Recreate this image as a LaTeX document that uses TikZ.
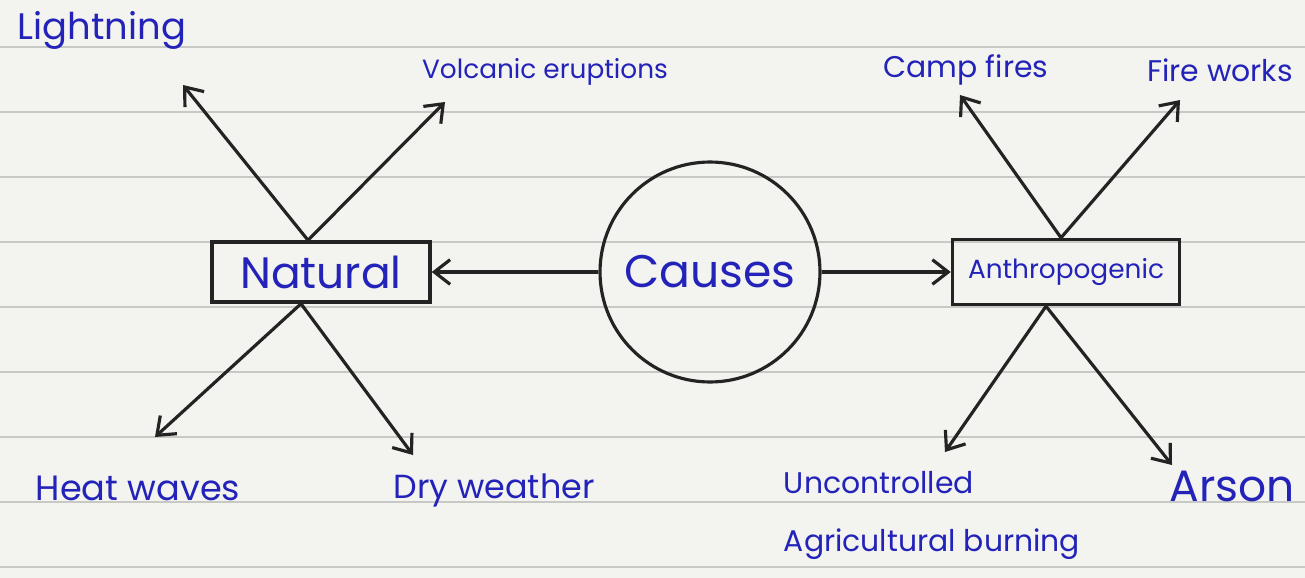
\documentclass[tikz,border=0pt]{standalone}
\usepackage{fontspec}
\setmainfont{Poppins}
\usetikzlibrary{arrows.meta}
\definecolor{ink}{RGB}{35,35,185}
\definecolor{pen}{RGB}{35,35,35}
\definecolor{paper}{RGB}{243,243,239}
\definecolor{rule}{RGB}{200,200,196}

\begin{document}
\begin{tikzpicture}[
    x=0.02cm, y=-0.02cm,
    box/.style={rectangle, draw=pen, line width=2pt, text=ink, inner sep=0pt},
    cause/.style={text=ink, inner sep=0pt},
    arrow/.style={-{Straight Barb[length=9pt,width=14pt]}, draw=pen, line width=1.8pt}
]
\useasboundingbox (0,0) rectangle (1305,578);

% Paper
\fill[paper] (0,0) rectangle (1305,578);
\foreach \y in {47,112,...,567}
    \draw[rule, line width=0.9pt] (0,\y) -- (1305,\y);

% Centre and the two groups
\node[circle, draw=pen, line width=1.8pt, text=ink, minimum size=4.4cm,
      font=\fontsize{26}{30}\selectfont] (causes) at (710,272) {Causes};
\node[box, minimum width=4.36cm, minimum height=1.2cm,
      font=\fontsize{25}{30}\selectfont] (natural) at (321,272) {Natural};
\node[box, minimum width=4.54cm, minimum height=1.3cm,
      font=\fontsize{15}{18}\selectfont] (anthro) at (1066,272) {Anthropogenic};

% Natural causes
\node[cause, font=\fontsize{21}{24}\selectfont] (light) at (102,30) {Lightning};
\node[cause, font=\fontsize{15}{18}\selectfont] (volc) at (545,72) {Volcanic eruptions};
\node[cause, font=\fontsize{20}{24}\selectfont] (heat) at (138,488) {Heat waves};
\node[cause, font=\fontsize{19}{24}\selectfont] (dry) at (494,490) {Dry weather};

% Anthropogenic causes
\node[cause, font=\fontsize{17}{20}\selectfont] (camp) at (966,70) {Camp fires};
\node[cause, font=\fontsize{17}{20}\selectfont] (fire) at (1220,70) {Fire works};
\node[cause, align=left, font=\fontsize{17}{33}\selectfont] (agri) at (932,515)
    {Uncontrolled\\Agricultural burning};
\node[cause, font=\fontsize{25}{30}\selectfont] (arson) at (1232,486) {Arson};

% Arrow tips
\coordinate (t-light) at (183,85);
\coordinate (t-volc) at (445,102);
\coordinate (t-heat) at (155,437);
\coordinate (t-dry) at (413,455);
\coordinate (t-camp) at (960,95);
\coordinate (t-fire) at (1180,100);
\coordinate (t-agri) at (945,452);
\coordinate (t-arson) at (1172,465);

% Connect
\draw[arrow] (causes.west) -- (natural.east);
\draw[arrow] (causes.east) -- (anthro.west);
\foreach \t in {light,volc}
    \draw[arrow] ([xshift=-0.26cm]natural.north) -- (t-\t);
\foreach \t in {heat,dry}
    \draw[arrow] ([xshift=-0.4cm]natural.south) -- (t-\t);
\foreach \t in {camp,fire}
    \draw[arrow] ([xshift=-0.1cm]anthro.north) -- (t-\t);
\foreach \t in {agri,arson}
    \draw[arrow] ([xshift=-0.4cm]anthro.south) -- (t-\t);

\end{tikzpicture}
\end{document}
